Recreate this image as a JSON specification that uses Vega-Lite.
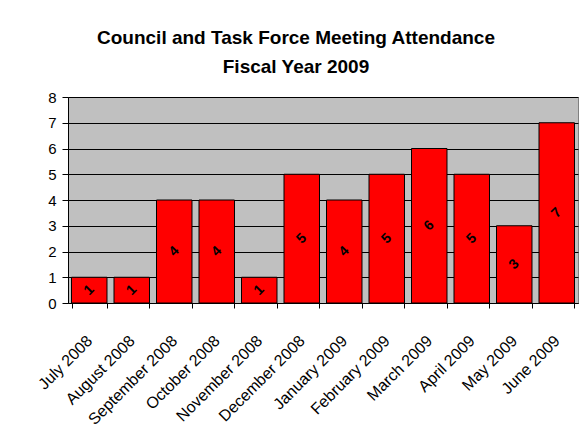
{
  "$schema": "https://vega.github.io/schema/vega-lite/v6.json",
  "width": 510,
  "height": 206,
  "autosize": "none",
  "padding": {"left": 68, "top": 97, "right": 4, "bottom": 143},
  "background": "white",
  "title": {
    "text": ["Council and Task Force Meeting Attendance", "Fiscal Year 2009"],
    "font": "Liberation Sans",
    "fontSize": 19,
    "fontWeight": "bold",
    "color": "black",
    "anchor": "middle",
    "dx": -27,
    "lineHeight": 29,
    "offset": 13
  },
  "data": {
    "values": [
      {"month": "July 2008", "count": 1},
      {"month": "August 2008", "count": 1},
      {"month": "September 2008", "count": 4},
      {"month": "October 2008", "count": 4},
      {"month": "November 2008", "count": 1},
      {"month": "December 2008", "count": 5},
      {"month": "January 2009", "count": 4},
      {"month": "February 2009", "count": 5},
      {"month": "March 2009", "count": 6},
      {"month": "April 2009", "count": 5},
      {"month": "May 2009", "count": 3},
      {"month": "June 2009", "count": 7}
    ]
  },
  "encoding": {
    "x": {
      "field": "month",
      "type": "nominal",
      "sort": null,
      "scale": {"paddingInner": 0.165, "paddingOuter": 0.0825},
      "axis": {
        "title": null,
        "labelAngle": -45,
        "labelAlign": "right",
        "labelBaseline": "middle",
        "labelFont": "Liberation Sans",
        "labelFontSize": 16,
        "labelColor": "black",
        "domainColor": "black",
        "tickColor": "black",
        "tickBand": "extent",
        "tickSize": 5,
        "labelPadding": 30,
        "grid": false
      }
    }
  },
  "layer": [
    {
      "mark": {"type": "bar", "color": "#FF0000", "stroke": "black", "strokeWidth": 1},
      "encoding": {
        "y": {
          "field": "count",
          "type": "quantitative",
          "scale": {"domain": [0, 8], "nice": false},
          "axis": {
            "title": null,
            "values": [0, 1, 2, 3, 4, 5, 6, 7, 8],
            "labelOverlap": false,
            "labelFont": "Liberation Sans",
            "labelFontSize": 15,
            "labelColor": "black",
            "labelPadding": 6,
            "domainColor": "black",
            "tickColor": "black",
            "tickSize": 6,
            "gridColor": "black",
            "gridOpacity": 1,
            "gridWidth": 1
          }
        }
      }
    },
    {
      "transform": [{"calculate": "datum.count / 2", "as": "mid"}],
      "mark": {"type": "text", "angle": -45, "font": "Liberation Sans", "fontSize": 14, "fontWeight": "bold", "color": "black", "align": "center", "baseline": "middle"},
      "encoding": {
        "y": {
          "field": "mid",
          "type": "quantitative",
          "axis": {
            "title": null,
            "values": [0, 1, 2, 3, 4, 5, 6, 7, 8],
            "labelOverlap": false,
            "labelFont": "Liberation Sans",
            "labelFontSize": 15,
            "labelColor": "black",
            "labelPadding": 6,
            "domainColor": "black",
            "tickColor": "black",
            "tickSize": 6,
            "gridColor": "black",
            "gridOpacity": 1,
            "gridWidth": 1
          }
        },
        "text": {"field": "count", "type": "quantitative"}
      }
    }
  ],
  "config": {
    "view": {"fill": "#C0C0C0", "stroke": "#808080", "strokeWidth": 1}
  }
}
